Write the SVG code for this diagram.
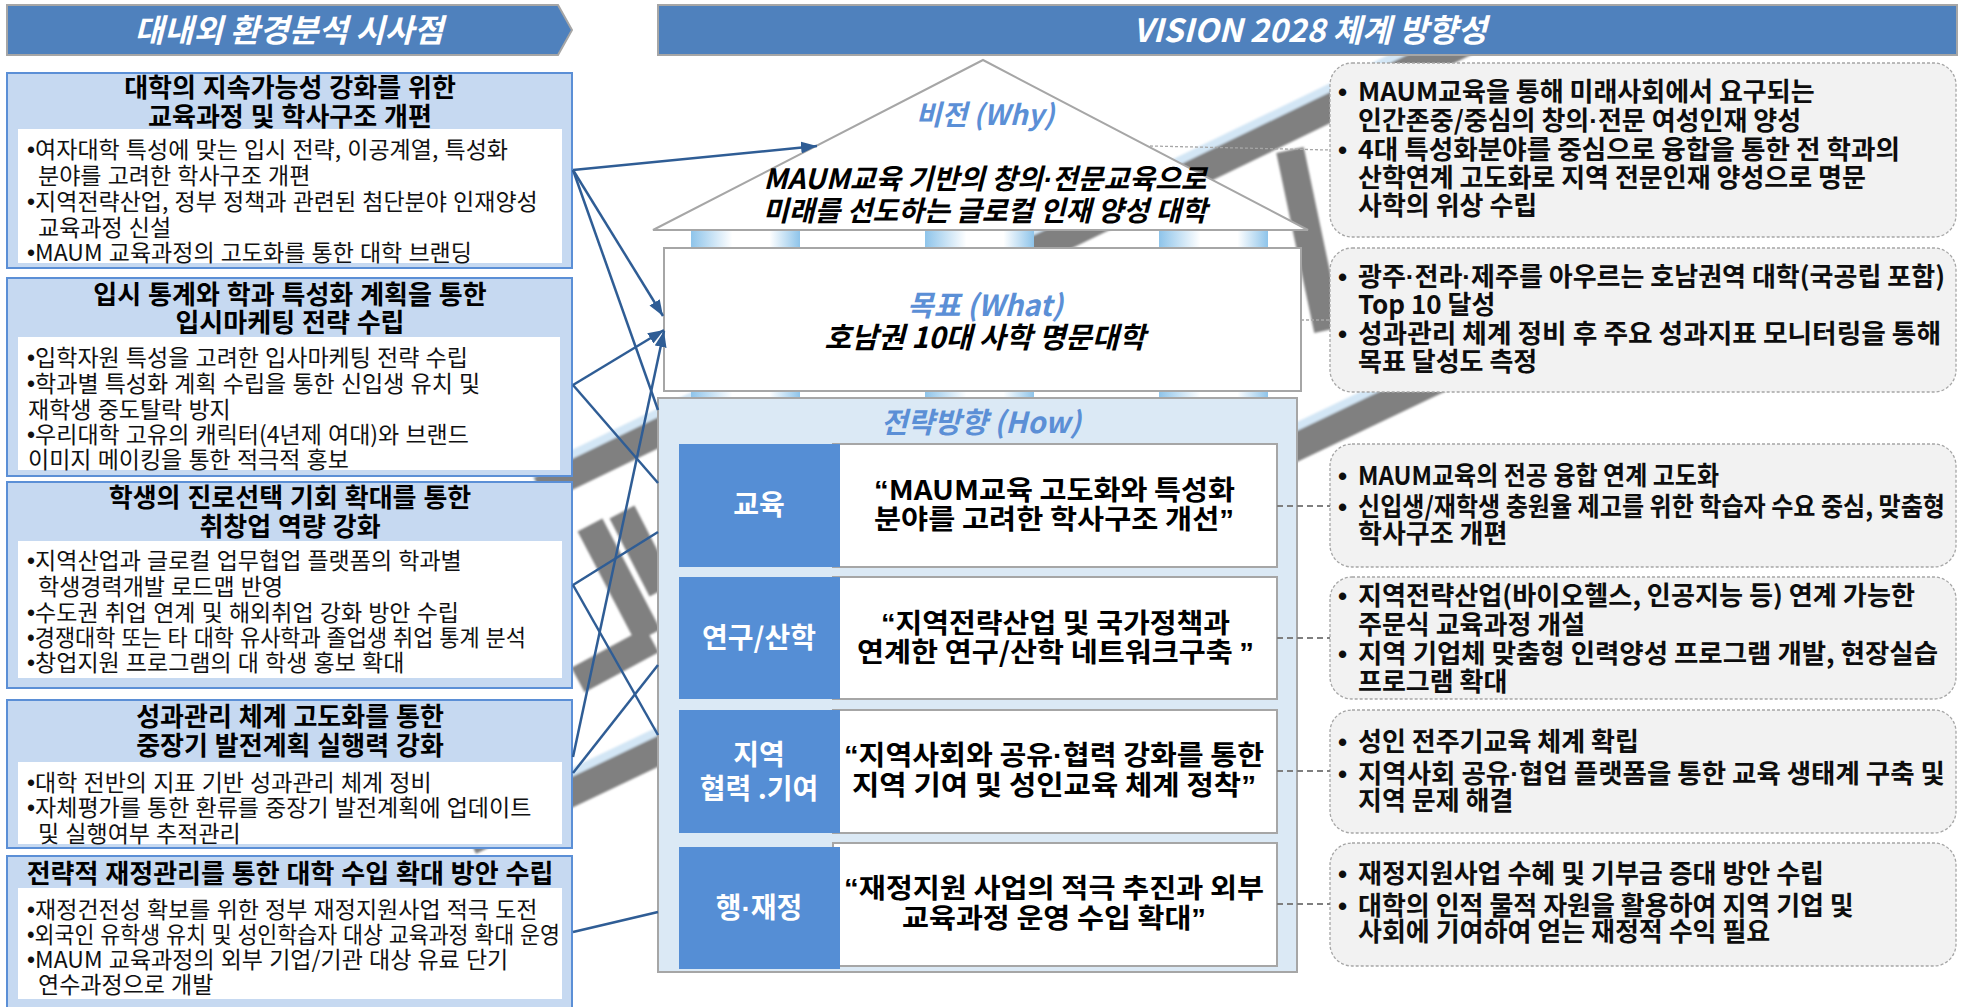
<svg xmlns="http://www.w3.org/2000/svg" width="1974" height="1007" viewBox="0 0 1974 1007">
<defs>
<style>
text { font-family: "Noto Sans CJK KR", "Noto Sans", sans-serif; }
.bul { font-family: "Liberation Sans", sans-serif; }
.hdr { fill:#ffffff; font-size:32px; font-weight:700; font-style:italic; text-anchor:middle; }
.hbar { fill:#4f81bd; stroke:#a6a6a6; stroke-width:2; }
.lbox { fill:#c6d9f1; stroke:#5b8fd6; stroke-width:2; }
.lin { fill:#ffffff; }
.ltitle { font-size:26px; font-weight:700; fill:#000000; text-anchor:middle; word-spacing:1px; }
.lb { font-size:23px; fill:#111111; word-spacing:1px; }
.blue { fill:#5b8fd6; font-size:29px; font-weight:700; font-style:italic; text-anchor:middle; }
.hv { fill:#000000; font-size:28px; font-weight:700; font-style:italic; text-anchor:middle; }
.house { fill:#ffffff; stroke:#a6a6a6; stroke-width:2; }
.sbox { fill:#dbe9f5; stroke:#a6a6a6; stroke-width:2; }
.lab { fill:#558ed5; }
.labt { fill:#ffffff; font-size:28px; font-weight:700; text-anchor:middle; }
.wbox { fill:#ffffff; stroke:#a6a6a6; stroke-width:2; }
.rowt { fill:#000000; font-size:27px; font-weight:700; }
.rbox { fill:#f2f2f2; stroke:#a6a6a6; stroke-width:1.3; stroke-dasharray:3 2; }
.rt { fill:#0d0d0d; font-size:26px; font-weight:700; }
.conn { stroke:#2f5d95; stroke-width:2.5; fill:none; }
.dash { stroke:#7f7f7f; stroke-width:2; stroke-dasharray:6 4; fill:none; }
.dot { stroke:#a6a6a6; stroke-width:1.3; stroke-dasharray:3 2; fill:none; }
.col { fill:url(#colg); }
</style>
<linearGradient id="colg" x1="0" y1="0" x2="1" y2="0">
<stop offset="0" stop-color="#8ec4ea"/>
<stop offset="0.38" stop-color="#ffffff"/>
<stop offset="0.72" stop-color="#ffffff"/>
<stop offset="1" stop-color="#8ec4ea"/>
</linearGradient>
<marker id="arr" viewBox="0 0 16 12" refX="16" refY="6" markerWidth="16" markerHeight="12" markerUnits="userSpaceOnUse" orient="auto">
<path d="M0,0 L16,6 L0,12 z" fill="#2f5d95"/>
</marker>
<filter id="soft" x="-10%" y="-10%" width="120%" height="120%"><feGaussianBlur stdDeviation="1"/></filter>
</defs>

<rect x="0" y="0" width="1974" height="1007" fill="#ffffff"/>

<!-- watermark -->
<g id="watermark" filter="url(#soft)" fill="none">
<g stroke="#d3e6f5" stroke-width="30" transform="translate(-4,-6)">
<path d="M540,490 L1470,40"/>
<path d="M470,841 L1470,364"/>
</g>
<g stroke="#808080" stroke-width="28">
<path d="M540,490 L1470,40"/>
<path d="M470,841 L1470,364"/>
<path d="M1290,150 L1328,330"/>
<path d="M590,525 L648,636"/>
<path d="M622,512 L662,590"/>
<path d="M578,680 L652,640"/>
</g>
</g>

<!-- headers -->
<g id="header-left">
<polygon class="hbar" points="7,5 558,5 572,30 558,55 7,55"/>
<text class="hdr" x="289" y="42">대내외 환경분석 시사점</text>
</g>
<g id="header-right">
<rect class="hbar" x="658" y="5" width="1299" height="50"/>
<text class="hdr" x="1310" y="42">VISION 2028 체계 방향성</text>
</g>

<!-- left boxes -->
<g id="left-1">
<rect class="lbox" x="7" y="73" width="565" height="195"/>
<text class="ltitle" x="290" y="97">대학의 지속가능성 강화를 위한</text>
<text class="ltitle" x="290" y="126">교육과정 및 학사구조 개편</text>
<rect class="lin" x="18" y="129" width="544" height="134"/>
<text class="lb" x="27" y="158"><tspan class="bul">•</tspan>여자대학 특성에 맞는 입시 전략, 이공계열, 특성화</text>
<text class="lb" x="38" y="184">분야를 고려한 학사구조 개편</text>
<text class="lb" x="27" y="210"><tspan class="bul">•</tspan>지역전략산업, 정부 정책과 관련된 첨단분야 인재양성</text>
<text class="lb" x="38" y="236">교육과정 신설</text>
<text class="lb" x="27" y="261"><tspan class="bul">•</tspan>MAUM 교육과정의 고도화를 통한 대학 브랜딩</text>
</g>

<g id="left-2">
<rect class="lbox" x="7" y="278" width="565" height="198"/>
<text class="ltitle" x="290" y="304">입시 통계와 학과 특성화 계획을 통한</text>
<text class="ltitle" x="290" y="332">입시마케팅 전략 수립</text>
<rect class="lin" x="18" y="337" width="542" height="133"/>
<text class="lb" x="27" y="366"><tspan class="bul">•</tspan>입학자원 특성을 고려한 입사마케팅 전략 수립</text>
<text class="lb" x="27" y="392"><tspan class="bul">•</tspan>학과별 특성화 계획 수립을 통한 신입생 유치 및</text>
<text class="lb" x="28" y="418">재학생 중도탈락 방지</text>
<text class="lb" x="27" y="443"><tspan class="bul">•</tspan>우리대학 고유의 캐릭터(4년제 여대)와 브랜드</text>
<text class="lb" x="28" y="468">이미지 메이킹을 통한 적극적 홍보</text>
</g>

<g id="left-3">
<rect class="lbox" x="7" y="482" width="565" height="206"/>
<text class="ltitle" x="290" y="507">학생의 진로선택 기회 확대를 통한</text>
<text class="ltitle" x="290" y="536">취창업 역량 강화</text>
<rect class="lin" x="18" y="541" width="544" height="137"/>
<text class="lb" x="27" y="569"><tspan class="bul">•</tspan>지역산업과 글로컬 업무협업 플랫폼의 학과별</text>
<text class="lb" x="38" y="595">학생경력개발 로드맵 반영</text>
<text class="lb" x="27" y="621"><tspan class="bul">•</tspan>수도권 취업 연계 및 해외취업 강화 방안 수립</text>
<text class="lb" x="27" y="646" textLength="499" lengthAdjust="spacingAndGlyphs"><tspan class="bul">•</tspan>경쟁대학 또는 타 대학 유사학과 졸업생 취업 통계 분석</text>
<text class="lb" x="27" y="671"><tspan class="bul">•</tspan>창업지원 프로그램의 대 학생 홍보 확대</text>
</g>

<g id="left-4">
<rect class="lbox" x="7" y="700" width="565" height="148"/>
<text class="ltitle" x="290" y="726">성과관리 체계 고도화를 통한</text>
<text class="ltitle" x="290" y="755">중장기 발전계획 실행력 강화</text>
<rect class="lin" x="18" y="762" width="544" height="82"/>
<text class="lb" x="27" y="791"><tspan class="bul">•</tspan>대학 전반의 지표 기반 성과관리 체계 정비</text>
<text class="lb" x="27" y="816"><tspan class="bul">•</tspan>자체평가를 통한 환류를 중장기 발전계획에 업데이트</text>
<text class="lb" x="38" y="842">및 실행여부 추적관리</text>
</g>

<g id="left-5">
<rect class="lbox" x="7" y="856" width="565" height="160"/>
<text class="ltitle" x="290" y="883">전략적 재정관리를 통한 대학 수입 확대 방안 수립</text>
<rect class="lin" x="18" y="888" width="544" height="111"/>
<text class="lb" x="27" y="918"><tspan class="bul">•</tspan>재정건전성 확보를 위한 정부 재정지원사업 적극 도전</text>
<text class="lb" x="27" y="943" textLength="533" lengthAdjust="spacingAndGlyphs"><tspan class="bul">•</tspan>외국인 유학생 유치 및 성인학습자 대상 교육과정 확대 운영</text>
<text class="lb" x="27" y="968"><tspan class="bul">•</tspan>MAUM 교육과정의 외부 기업/기관 대상 유료 단기</text>
<text class="lb" x="38" y="993">연수과정으로 개발</text>
</g>

<!-- house -->
<g id="vision">
<polygon class="house" points="983,60 1308,230 653,230"/>
<text class="blue" x="985" y="125" style="font-size:28px">비전 (Why)</text>
<text class="hv" x="985" y="189">MAUM교육 기반의 창의<tspan class="bul">·</tspan>전문교육으로</text>
<text class="hv" x="985" y="221">미래를 선도하는 글로컬 인재 양성 대학</text>
</g>
<g id="columns">
<rect class="col" x="691" y="231" width="109" height="17"/>
<rect class="col" x="925" y="231" width="109" height="17"/>
<rect class="col" x="1159" y="231" width="109" height="17"/>
<rect class="col" x="691" y="392" width="109" height="6"/>
<rect class="col" x="925" y="392" width="109" height="6"/>
<rect class="col" x="1159" y="392" width="109" height="6"/>
</g>
<g id="goal">
<rect class="house" x="664" y="248" width="637" height="143"/>
<text class="blue" x="985" y="316">목표 (What)</text>
<text class="hv" x="985" y="348" style="font-size:29px">호남권 10대 사학 명문대학</text>
</g>

<g id="strategy">
<rect class="sbox" x="658" y="398" width="639" height="574"/>
<text class="blue" x="981" y="433">전략방향 (How)</text>
</g>

<g id="row-edu">
<rect class="wbox" x="833" y="444" width="444" height="123"/>
<rect class="lab" x="679" y="444" width="161" height="123"/>
<text class="labt" x="759" y="515">교육</text>
<text class="rowt" x="874" y="500" textLength="361" lengthAdjust="spacingAndGlyphs"><tspan class="bul">“</tspan>MAUM교육 고도화와 특성화</text>
<text class="rowt" x="874" y="529" textLength="360" lengthAdjust="spacingAndGlyphs">분야를 고려한 학사구조 개선<tspan class="bul">”</tspan></text>
</g>

<g id="row-research">
<rect class="wbox" x="833" y="577" width="444" height="122"/>
<rect class="lab" x="679" y="577" width="161" height="122"/>
<text class="labt" x="759" y="648">연구/산학</text>
<text class="rowt" x="881" y="633" textLength="349" lengthAdjust="spacingAndGlyphs"><tspan class="bul">“</tspan>지역전략산업 및 국가정책과</text>
<text class="rowt" x="857" y="662" textLength="397" lengthAdjust="spacingAndGlyphs">연계한 연구/산학 네트워크구축 <tspan class="bul">”</tspan></text>
</g>

<g id="row-region">
<rect class="wbox" x="833" y="710" width="444" height="123"/>
<rect class="lab" x="679" y="710" width="161" height="123"/>
<text class="labt" x="759" y="765">지역</text>
<text class="labt" x="759" y="799">협력 .기여</text>
<text class="rowt" x="844" y="765" textLength="420" lengthAdjust="spacingAndGlyphs"><tspan class="bul">“</tspan>지역사회와 공유<tspan class="bul">·</tspan>협력 강화를 통한</text>
<text class="rowt" x="852" y="795" textLength="404" lengthAdjust="spacingAndGlyphs">지역 기여 및 성인교육 체계 정착<tspan class="bul">”</tspan></text>
</g>

<g id="row-finance">
<rect class="wbox" x="833" y="843" width="444" height="123"/>
<rect class="lab" x="679" y="847" width="161" height="122"/>
<text class="labt" x="759" y="918">행<tspan class="bul">·</tspan>재정</text>
<text class="rowt" x="844" y="898" textLength="420" lengthAdjust="spacingAndGlyphs"><tspan class="bul">“</tspan>재정지원 사업의 적극 추진과 외부</text>
<text class="rowt" x="902" y="928" textLength="304" lengthAdjust="spacingAndGlyphs">교육과정 운영 수입 확대<tspan class="bul">”</tspan></text>
</g>

<!-- right boxes -->
<g id="right-1">
<rect class="rbox" x="1330" y="63" width="626" height="174" rx="22"/>
<text class="rt bul" x="1338" y="101">•</text>
<text class="rt" x="1358" y="101">MAUM교육을 통해 미래사회에서 요구되는</text>
<text class="rt" x="1358" y="130">인간존중/중심의 창의<tspan class="bul">·</tspan>전문 여성인재 양성</text>
<text class="rt bul" x="1338" y="159">•</text>
<text class="rt" x="1358" y="159" textLength="542" lengthAdjust="spacingAndGlyphs">4대 특성화분야를 중심으로 융합을 통한 전 학과의</text>
<text class="rt" x="1358" y="187">산학연계 고도화로 지역 전문인재 양성으로 명문</text>
<text class="rt" x="1358" y="215">사학의 위상 수립</text>
</g>

<g id="right-2">
<rect class="rbox" x="1330" y="248" width="626" height="144" rx="22"/>
<text class="rt bul" x="1338" y="286">•</text>
<text class="rt" x="1358" y="286" textLength="587" lengthAdjust="spacingAndGlyphs">광주<tspan class="bul">·</tspan>전라<tspan class="bul">·</tspan>제주를 아우르는 호남권역 대학(국공립 포함)</text>
<text class="rt" x="1358" y="314">Top 10 달성</text>
<text class="rt bul" x="1338" y="343">•</text>
<text class="rt" x="1358" y="343" textLength="583" lengthAdjust="spacingAndGlyphs">성과관리 체계 정비 후 주요 성과지표 모니터링을 통해</text>
<text class="rt" x="1358" y="371">목표 달성도 측정</text>
</g>

<g id="right-3">
<rect class="rbox" x="1330" y="444" width="626" height="123" rx="22"/>
<text class="rt bul" x="1338" y="485">•</text>
<text class="rt" x="1358" y="485" textLength="361" lengthAdjust="spacingAndGlyphs">MAUM교육의 전공 융합 연계 고도화</text>
<text class="rt bul" x="1338" y="516">•</text>
<text class="rt" x="1358" y="516" textLength="587" lengthAdjust="spacingAndGlyphs">신입생/재학생 충원율 제고를 위한 학습자 수요 중심, 맞춤형</text>
<text class="rt" x="1358" y="543">학사구조 개편</text>
</g>

<g id="right-4">
<rect class="rbox" x="1330" y="577" width="626" height="122" rx="22"/>
<text class="rt bul" x="1338" y="605">•</text>
<text class="rt" x="1358" y="605" textLength="557" lengthAdjust="spacingAndGlyphs">지역전략산업(바이오헬스, 인공지능 등) 연계 가능한</text>
<text class="rt" x="1358" y="634">주문식 교육과정 개설</text>
<text class="rt bul" x="1338" y="663">•</text>
<text class="rt" x="1358" y="663" textLength="580" lengthAdjust="spacingAndGlyphs">지역 기업체 맞춤형 인력양성 프로그램 개발, 현장실습</text>
<text class="rt" x="1358" y="691">프로그램 확대</text>
</g>

<g id="right-5">
<rect class="rbox" x="1330" y="710" width="626" height="123" rx="22"/>
<text class="rt bul" x="1338" y="751">•</text>
<text class="rt" x="1358" y="751">성인 전주기교육 체계 확립</text>
<text class="rt bul" x="1338" y="783">•</text>
<text class="rt" x="1358" y="783" textLength="587" lengthAdjust="spacingAndGlyphs">지역사회 공유<tspan class="bul">·</tspan>협업 플랫폼을 통한 교육 생태계 구축 및</text>
<text class="rt" x="1358" y="810">지역 문제 해결</text>
</g>

<g id="right-6">
<rect class="rbox" x="1330" y="843" width="626" height="123" rx="22"/>
<text class="rt bul" x="1338" y="883">•</text>
<text class="rt" x="1358" y="883">재정지원사업 수혜 및 기부금 증대 방안 수립</text>
<text class="rt bul" x="1338" y="915">•</text>
<text class="rt" x="1358" y="915">대학의 인적 물적 자원을 활용하여 지역 기업 및</text>
<text class="rt" x="1358" y="941">사회에 기여하여 얻는 재정적 수익 필요</text>
</g>

<!-- connectors -->
<g id="connectors">
<path class="conn" d="M573,170 L817,146" marker-end="url(#arr)"/>
<path class="conn" d="M573,170 L663,316" marker-end="url(#arr)"/>
<path class="conn" d="M573,170 L658,410"/>
<path class="conn" d="M573,385 L664,330" marker-end="url(#arr)"/>
<path class="conn" d="M573,385 L658,483"/>
<path class="conn" d="M573,585 L658,532"/>
<path class="conn" d="M573,585 L658,735"/>
<path class="conn" d="M573,757 L664,331" marker-end="url(#arr)"/>
<path class="conn" d="M573,773 L658,665"/>
<path class="conn" d="M573,932 L658,912"/>
<path class="dot" d="M1150,146 L1330,150"/>
<path class="dot" d="M1301,320 L1330,320"/>
<path class="dash" d="M1277,506 L1330,506"/>
<path class="dash" d="M1277,638 L1330,638"/>
<path class="dash" d="M1277,771 L1330,771"/>
<path class="dash" d="M1277,904 L1330,904"/>
</g>
</svg>
